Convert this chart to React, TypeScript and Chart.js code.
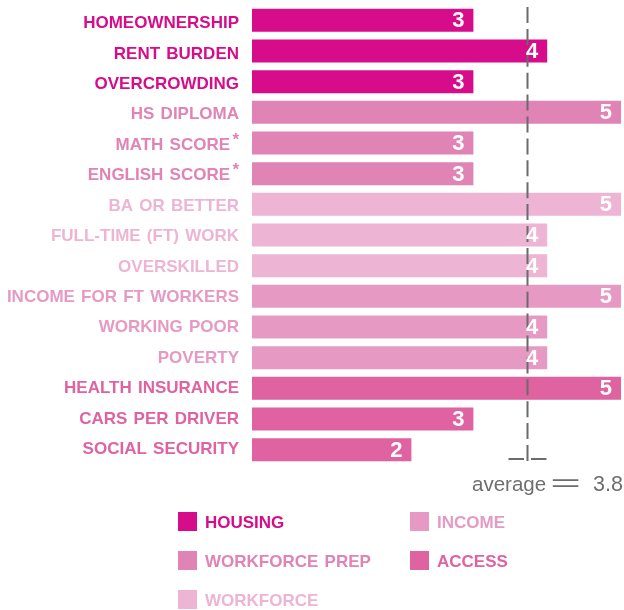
import React, { useEffect, useRef } from 'react';
import { Chart, registerables } from 'chart.js';

Chart.register(...registerables);

// ---- data ----
const categories = [
  'HOMEOWNERSHIP', 'RENT BURDEN', 'OVERCROWDING',
  'HS DIPLOMA', 'MATH SCORE', 'ENGLISH SCORE',
  'BA OR BETTER', 'FULL-TIME (FT) WORK', 'OVERSKILLED',
  'INCOME FOR FT WORKERS', 'WORKING POOR', 'POVERTY',
  'HEALTH INSURANCE', 'CARS PER DRIVER', 'SOCIAL SECURITY',
];
const footnoted = [false, false, false, false, true, true, false, false, false, false, false, false, false, false, false];
const scores = [3, 4, 3, 5, 3, 3, 5, 4, 4, 5, 4, 4, 5, 3, 2];
const barLengths = [3, 4, 3, 5, 3, 3, 5, 4, 4, 5, 4, 4, 5, 3, 2.16];
const groupIndex = [0, 0, 0, 1, 1, 1, 2, 2, 2, 3, 3, 3, 4, 4, 4];
const groupNames = ['HOUSING', 'WORKFORCE PREP', 'WORKFORCE', 'INCOME', 'ACCESS'];
const groupColors = ['#d60c8b', '#e083b5', '#edb5d3', '#e69ac3', '#df62a1'];
const averageWord = 'average';
const averageSign = '=';
const averageValue = '3.8';
const averageLinePos = 3.72;
const xMin = 0;
const xMax = 5;

const FONT = '"Liberation Sans", Arial, sans-serif';

const overlayPlugin = {
  id: 'overlay',
  afterDatasetsDraw(chart: any) {
    const ctx = chart.ctx as CanvasRenderingContext2D;
    const x = chart.scales.x;
    const area = chart.chartArea;

    // average dashed line
    const ax = Math.round(x.getPixelForValue(averageLinePos)) + 0.5;
    ctx.save();
    ctx.strokeStyle = '#6b6b6b';
    ctx.lineWidth = 2;
    ctx.setLineDash([16, 5.9]);
    ctx.beginPath();
    ctx.moveTo(ax, area.top + 2);
    ctx.lineTo(ax, area.bottom - 3);
    ctx.stroke();
    ctx.setLineDash([]);
    const ty = area.bottom - 6;
    ctx.beginPath();
    ctx.moveTo(ax - 19, ty);
    ctx.lineTo(ax - 3.5, ty);
    ctx.moveTo(ax + 3.5, ty);
    ctx.lineTo(ax + 19, ty);
    ctx.stroke();
    ctx.restore();

    // value labels
    const meta = chart.getDatasetMeta(0);
    ctx.save();
    ctx.fillStyle = '#ffffff';
    ctx.font = `bold 22px ${FONT}`;
    ctx.textAlign = 'right';
    ctx.textBaseline = 'middle';
    meta.data.forEach((bar: any, i: number) => {
      ctx.fillText(String(scores[i]), bar.x - 9, bar.y + 1);
    });
    ctx.restore();
  },
  afterDraw(chart: any) {
    const ctx = chart.ctx as CanvasRenderingContext2D;
    const y = chart.scales.y;
    const area = chart.chartArea;

    // category labels
    ctx.save();
    ctx.textBaseline = 'middle';
    ctx.textAlign = 'right';
    (ctx as any).wordSpacing = '1.5px';
    categories.forEach((c, i) => {
      const py = y.getPixelForValue(i) + 3.2 - i * 0.25;
      ctx.fillStyle = groupColors[groupIndex[i]];
      let right = area.left - 13;
      if (footnoted[i]) {
        ctx.font = `bold 17px ${FONT}`;
        ctx.fillText('*', right, py - 5);
        right -= 9;
      }
      ctx.font = `bold 17px ${FONT}`;
      ctx.fillText(c, right, py);
    });
    ctx.restore();

    // average text
    ctx.save();
    ctx.fillStyle = '#6e6e6e';
    ctx.textBaseline = 'alphabetic';
    const base = area.bottom + 26;
    ctx.font = `21.5px ${FONT}`;
    ctx.textAlign = 'right';
    ctx.fillText(averageValue, chart.width - 1, base);
    ctx.font = `20.5px ${FONT}`;
    ctx.textAlign = 'left';
    ctx.fillText(averageWord, 472, base);
    ctx.save();
    ctx.translate(565.5, base);
    ctx.scale(2.5, 1.1);
    ctx.font = `21px ${FONT}`;
    ctx.textAlign = 'center';
    ctx.fillText(averageSign, 0, 0);
    ctx.restore();
    ctx.restore();

    // legend
    const cols = [178, 410];
    const rows = [521.5, 560.5, 599.5];
    const order = [0, 3, 1, 4, 2]; // row-major: housing, income, workforce prep, access, workforce
    ctx.save();
    ctx.textBaseline = 'middle';
    ctx.textAlign = 'left';
    (ctx as any).wordSpacing = '1.5px';
    order.forEach((g, k) => {
      const cx = cols[k % 2];
      const cy = rows[Math.floor(k / 2)];
      ctx.fillStyle = groupColors[g];
      ctx.fillRect(cx, cy - 9.5, 19, 19);
      ctx.font = `bold 17px ${FONT}`;
      ctx.fillText(groupNames[g], cx + 27, cy + 1.5);
    });
    ctx.restore();
  },
};

export default function App() {
  const ref = useRef<HTMLCanvasElement>(null);
  useEffect(() => {
    document.body.style.margin = '0';
    const chart = new Chart(ref.current as HTMLCanvasElement, {
      type: 'bar',
      data: {
        labels: categories,
        datasets: [
          {
            data: barLengths,
            backgroundColor: groupIndex.map((g) => groupColors[g]),
            borderWidth: 0,
            categoryPercentage: 1,
            barPercentage: 0.75,
          },
        ],
      },
      options: {
        indexAxis: 'y',
        responsive: false,
        animation: false,
        devicePixelRatio: 1,
        layout: { padding: { left: 252, right: 3, top: 5, bottom: 145 } },
        scales: {
          x: { display: false, min: xMin, max: xMax },
          y: { display: false },
        },
        plugins: {
          legend: { display: false },
          tooltip: { enabled: false },
        },
      },
      plugins: [overlayPlugin],
    });
    return () => chart.destroy();
  }, []);
  return (
    <div style={{ width: 624, height: 610 }}>
      <canvas ref={ref} width={624} height={610} style={{ display: 'block' }} />
    </div>
  );
}
